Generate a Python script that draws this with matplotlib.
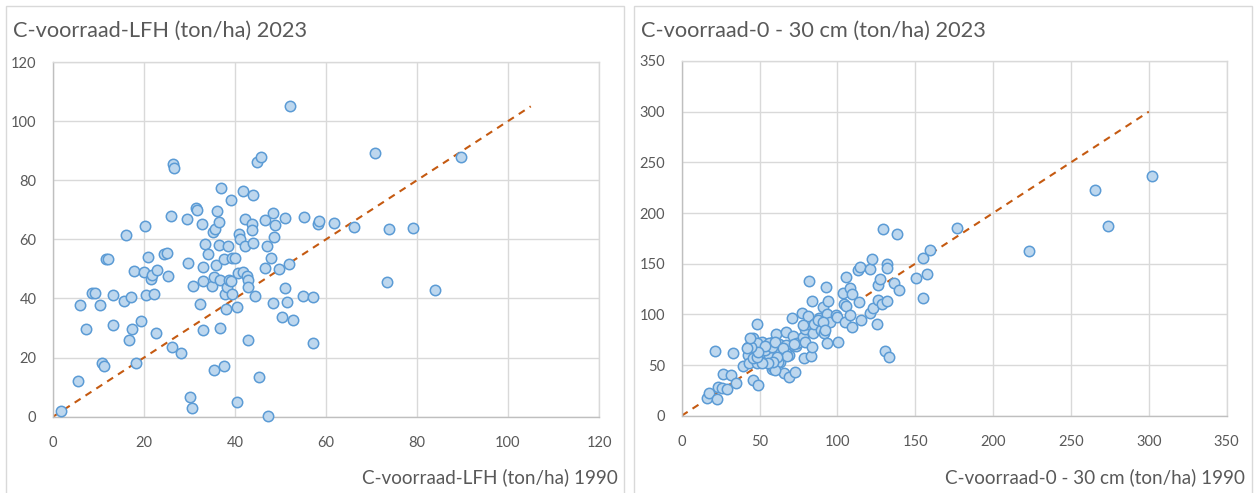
import matplotlib
matplotlib.use("Agg")
import matplotlib.pyplot as plt
from matplotlib.patches import Rectangle

plt.rcParams['font.family'] = ['Lato', 'DejaVu Sans']

# ---------------- data ----------------
lfh_title = "C-voorraad-LFH (ton/ha) 2023"
lfh_xlabel = "C-voorraad-LFH (ton/ha) 1990"
lfh_1990 = [1.7, 5.5, 5.9, 7.3, 8.5, 9.3, 10.3, 10.7, 11.1, 11.6, 12.0, 13.1, 13.1, 15.5, 16.0,
            16.8, 17.1, 17.3, 17.7, 18.2, 19.3, 20.0, 20.2, 20.4, 20.9, 21.5, 21.8, 22.3, 22.6,
            22.8, 24.3, 25.0, 25.3, 25.9, 26.1, 26.3, 26.6, 28.1, 29.5, 29.6, 30.1, 30.6, 30.8,
            31.4, 31.6, 32.2, 32.8, 33.0, 33.0, 33.0, 33.4, 34.1, 34.9, 35.2, 35.4, 35.6, 35.4,
            35.8, 36.1, 36.4, 36.4, 36.7, 36.7, 36.9, 37.6, 37.6, 37.8, 38.0, 38.2, 38.5, 38.6,
            39.1, 39.2, 39.3, 39.3, 40.1, 40.4, 40.4, 40.7, 40.9, 41.1, 41.7, 41.8, 42.1, 42.3,
            42.6, 42.9, 42.9, 42.9, 43.8, 43.8, 43.9, 44.0, 44.5, 44.9, 45.3, 45.7, 46.7, 46.7,
            47.0, 47.2, 47.9, 48.4, 48.4, 48.6, 48.7, 49.6, 50.3, 51.0, 51.0, 51.4, 51.9, 52.0,
            52.7, 54.9, 55.2, 57.2, 57.2, 58.2, 58.5, 61.8, 66.2, 70.8, 73.5, 73.9, 79.2, 83.9,
            89.7]
lfh_2023 = [2.0, 12.0, 37.8, 29.8, 41.8, 42.0, 37.7, 18.1, 17.3, 53.5, 53.5, 41.1, 31.0, 39.3, 61.4,
            26.0, 40.6, 29.6, 49.2, 18.3, 32.5, 49.0, 64.6, 41.2, 54.1, 46.5, 47.8, 41.5, 28.2,
            49.6, 55.0, 55.5, 47.5, 67.9, 23.7, 85.5, 84.2, 21.7, 67.0, 51.9, 6.8, 2.8, 44.2,
            70.5, 69.8, 38.1, 65.1, 50.8, 45.8, 29.3, 58.4, 55.0, 44.3, 62.6, 15.8, 63.6, 47.4,
            51.3, 69.7, 66.0, 58.2, 46.3, 29.9, 77.3, 53.2, 17.2, 41.4, 36.5, 44.0, 57.8, 46.3,
            73.2, 45.9, 53.6, 41.6, 53.8, 37.2, 4.9, 48.6, 61.9, 60.2, 49.0, 76.4, 57.9, 66.9,
            47.6, 46.3, 44.0, 26.1, 65.1, 63.0, 75.1, 58.7, 40.9, 86.2, 13.5, 88.0, 66.7, 50.3,
            57.8, 0.2, 53.7, 68.8, 38.4, 60.9, 64.9, 49.9, 33.6, 67.2, 43.4, 38.7, 51.6, 105.1,
            32.7, 41.0, 67.4, 40.5, 25.1, 65.3, 66.1, 65.4, 64.3, 89.3, 45.7, 63.6, 63.7, 42.9,
            87.9]
lfh_xlim = (0, 120)
lfh_ylim = (0, 120)
lfh_ticks = [0, 20, 40, 60, 80, 100, 120]
lfh_line = [0, 105]

top_title = "C-voorraad-0 - 30 cm (ton/ha) 2023"
top_xlabel = "C-voorraad-0 - 30 cm (ton/ha) 1990"
top_1990 = [16.4, 17.5, 22.5, 21.4, 23.5, 25.7, 26.7, 29.3, 31.8, 33.1, 34.6, 39.4, 42.4, 42.8,
            43.4, 45.6, 45.8, 48.6, 48.6, 49.2, 49.2, 49.2, 51.4, 54.1, 56.3, 56.7, 57.8, 58.8,
            58.8, 60.4, 62.7, 63.1, 65.7, 65.9, 67.2, 67.0, 68.7, 68.9, 70.6, 71.7, 72.8, 73.4,
            73.9, 77.5, 78.1, 78.7, 79.2, 79.2, 80.7, 81.3, 81.6, 82.8, 83.5, 83.5, 84.5, 85.0,
            88.2, 89.3, 90.6, 91.6, 92.7, 93.1, 93.5, 94.2, 95.2, 99.0, 99.5, 100.2, 103.8,
            104.4, 104.9, 105.5, 105.5, 108.1, 108.1, 109.2, 109.2, 113.4, 114.1, 114.5, 115.0,
            121.0, 121.1, 122.0, 122.7, 125.6, 125.9, 126.3, 127.4, 128.4, 129.5, 130.6, 131.7,
            131.7, 132.0, 133.3, 136.3, 138.5, 139.8, 150.3, 154.8, 155.2, 157.3, 159.5, 177.0,
            223.0, 265.6, 274.0, 302.0,
            78.1, 87.7, 90.9, 92.0, 72.1, 67.2, 62.0, 56.1, 53.5, 62.0, 59.9, 48.2, 45.6,
            57.8, 53.5, 60.0, 65.3, 67.4, 61.0, 58.4, 55.6, 51.4, 48.2, 48.8, 44.3, 41.7, 43.9]
top_2023 = [17.2, 22.1, 16.3, 63.6, 28.6, 27.0, 41.0, 26.2, 40.2, 61.4, 32.0, 49.2, 68.1, 59.9,
            51.7, 76.4, 34.8, 90.2, 52.3, 68.8, 61.6, 30.3, 73.0, 62.2, 59.9, 68.1, 45.8, 47.8,
            73.0, 80.3, 70.8, 53.3, 65.8, 42.3, 82.3, 69.8, 59.6, 38.5, 96.6, 78.6, 43.4, 69.1,
            71.4, 101.0, 78.0, 56.6, 85.3, 73.0, 90.2, 98.4, 133.2, 59.2, 113.3, 68.1, 81.3, 90.5,
            96.1, 84.6, 107.0, 81.9, 127.3, 100.4, 71.4, 113.2, 92.8, 99.4, 97.7, 72.7, 120.8,
            109.9, 92.8, 137.2, 108.5, 125.7, 99.4, 120.1, 87.8, 143.8, 111.9, 147.0, 94.4,
            101.0, 144.8, 154.3, 106.0, 90.5, 129.0, 114.2, 134.6, 109.9, 184.5, 63.8, 149.4,
            146.0, 113.2, 58.2, 130.6, 179.3, 124.0, 136.2, 116.4, 155.9, 139.8, 163.5, 184.9,
            162.2, 222.4, 187.5, 236.2,
            89.5, 94.4, 92.8, 84.6, 70.8, 61.6, 62.2, 71.4, 64.8, 52.7, 45.1, 71.4, 56.6,
            68.1, 69.1, 73.0, 66.5, 58.9, 58.2, 53.3, 51.7, 52.3, 57.6, 63.2, 68.1, 67.1, 76.4]
top_xlim = (0, 350)
top_ylim = (0, 350)
top_ticks = [0, 50, 100, 150, 200, 250, 300, 350]
top_line = [0, 300]

# ---------------- style ----------------
W, H = 1254, 493
TXT = '#595959'
GRID = '#D9D9D9'
FACE = '#BDD7EE'
EDGE = '#5B9BD5'
LINE = '#C55A11'

fig = plt.figure(figsize=(W / 100, H / 100), dpi=100)


def px_rect(x0, y0, x1, y1):
    return [x0 / W, 1 - y1 / H, (x1 - x0) / W, (y1 - y0) / H]


def panel(ax, xs, ys, xlim, ylim, ticks, line):
    ax.set_xlim(*xlim)
    ax.set_ylim(*ylim)
    ax.set_xticks(ticks)
    ax.set_yticks(ticks)
    ax.grid(True, color=GRID, linewidth=1.0)
    ax.set_axisbelow(True)
    for s in ax.spines.values():
        s.set_color(GRID)
        s.set_linewidth(1.0)
    ax.spines['bottom'].set_color('#BFBFBF')
    ax.spines['left'].set_color('#BFBFBF')
    ax.tick_params(length=0, labelsize=10.5, labelcolor=TXT, pad=12)
    ax.tick_params(axis='x', pad=14)
    ax.plot(line, line, linestyle=(0, (3.4, 2.8)), color=LINE, linewidth=1.5, zorder=2)
    ax.scatter(xs, ys, s=56, facecolor=FACE, edgecolor=EDGE, linewidth=1.1, zorder=3, clip_on=False)


ax1 = fig.add_axes(px_rect(53, 62, 599, 416.7))
panel(ax1, lfh_1990, lfh_2023, lfh_xlim, lfh_ylim, lfh_ticks, lfh_line)
ax2 = fig.add_axes(px_rect(681.7, 61, 1226.7, 415.7))
panel(ax2, top_1990, top_2023, top_xlim, top_ylim, top_ticks, top_line)

# panel borders
for x0, x1 in [(6, 624), (633.5, 1251.5)]:
    fig.add_artist(Rectangle((x0 / W, -0.05), (x1 - x0) / W, (H - 6) / H + 0.05,
                             transform=fig.transFigure, fill=False,
                             edgecolor=GRID, linewidth=1.0))

fig.text(13 / W, 1 - 31 / H, lfh_title, fontsize=15.7, color=TXT, va='center', ha='left')
fig.text(641 / W, 1 - 31 / H, top_title, fontsize=15.7, color=TXT, va='center', ha='left')
fig.text(618 / W, 1 - 477 / H, lfh_xlabel, fontsize=13.6, color=TXT, va='center', ha='right')
fig.text(1245 / W, 1 - 477 / H, top_xlabel, fontsize=13.6, color=TXT, va='center', ha='right')

fig.savefig('out.png', dpi=100, facecolor='white')
